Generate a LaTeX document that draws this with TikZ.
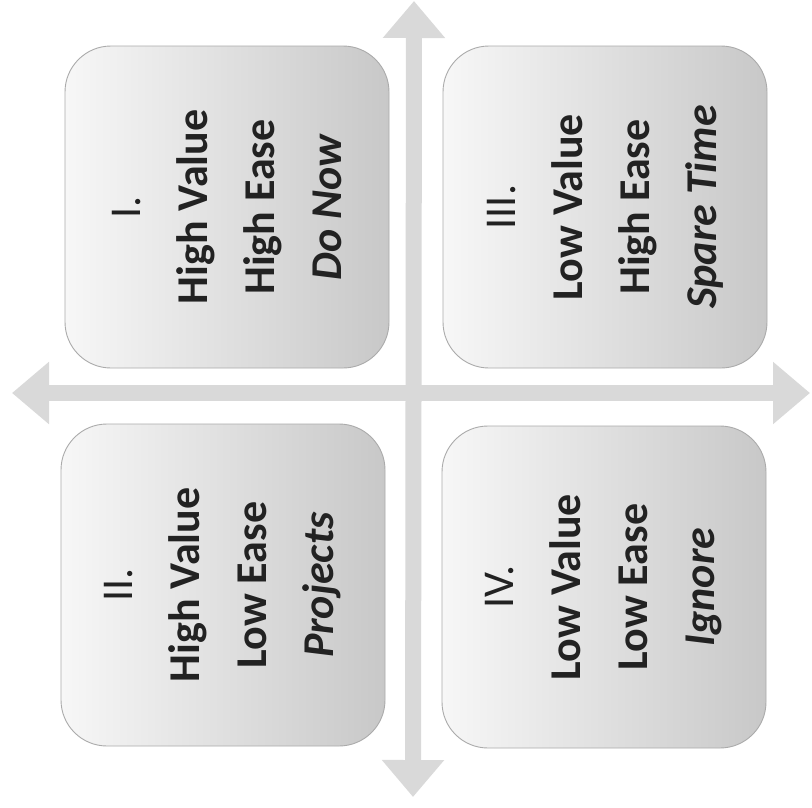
\documentclass[tikz,border=0pt]{standalone}
\usepackage{fontspec}
\setmainfont{Carlito}
\usetikzlibrary{arrows.meta}
\definecolor{arrowgray}{HTML}{D9D9D9}
\definecolor{boxedge}{HTML}{ABABAB}
\definecolor{boxlight}{HTML}{F7F7F7}
\definecolor{boxdark}{HTML}{C8C8C8}
\definecolor{txt}{HTML}{222222}
\tikzset{
  quadbox/.style={draw=boxedge, line width=0.9pt, rounded corners=46pt,
    left color=boxlight, right color=boxdark,
    minimum width=324pt, minimum height=322pt, inner sep=0pt},
  quadtext/.style={rotate=90, align=center, text=txt, inner sep=0pt,
    font=\fontsize{44}{67}\selectfont},
  bigarrow/.style={line width=16pt, draw=arrowgray,
    {Triangle[width=60pt,length=37pt]}-{Triangle[width=60pt,length=37pt]}}
}
\begin{document}
\begin{tikzpicture}[x=1pt,y=-1pt]
\fill[white] (0,0) rectangle (812,807);
\useasboundingbox (0,0) rectangle (812,807);

% axes
\coordinate (vtop) at (414,1);
\coordinate (vbot) at (413,797);
\coordinate (hleft) at (12,393);
\coordinate (hright) at (810,393);
\draw[bigarrow] (hleft) -- (hright);
\draw[bigarrow] (vbot) -- (vtop);

% quadrant boxes
\node[quadbox] (q1) at (227,207) {};
\node[quadbox] (q3) at (605,207) {};
\node[quadbox] (q2) at (223,585) {};
\node[quadbox] (q4) at (604,587) {};

% texts
\node[quadtext] (t1) at (q1.center) {I.\\\textbf{High Value}\\\textbf{High Ease}\\\textbf{\textit{Do Now}}};
\node[quadtext] (t3) at (q3.center) {III.\\\textbf{Low Value}\\\textbf{High Ease}\\\textbf{\textit{Spare Time}}};
\node[quadtext] (t2) at (q2.center) {II.\\\textbf{High Value}\\\textbf{Low Ease}\\\textbf{\textit{Projects}}};
\node[quadtext] (t4) at (q4.center) {IV.\\\textbf{Low Value}\\\textbf{Low Ease}\\\textbf{\textit{Ignore}}};
\end{tikzpicture}
\end{document}
